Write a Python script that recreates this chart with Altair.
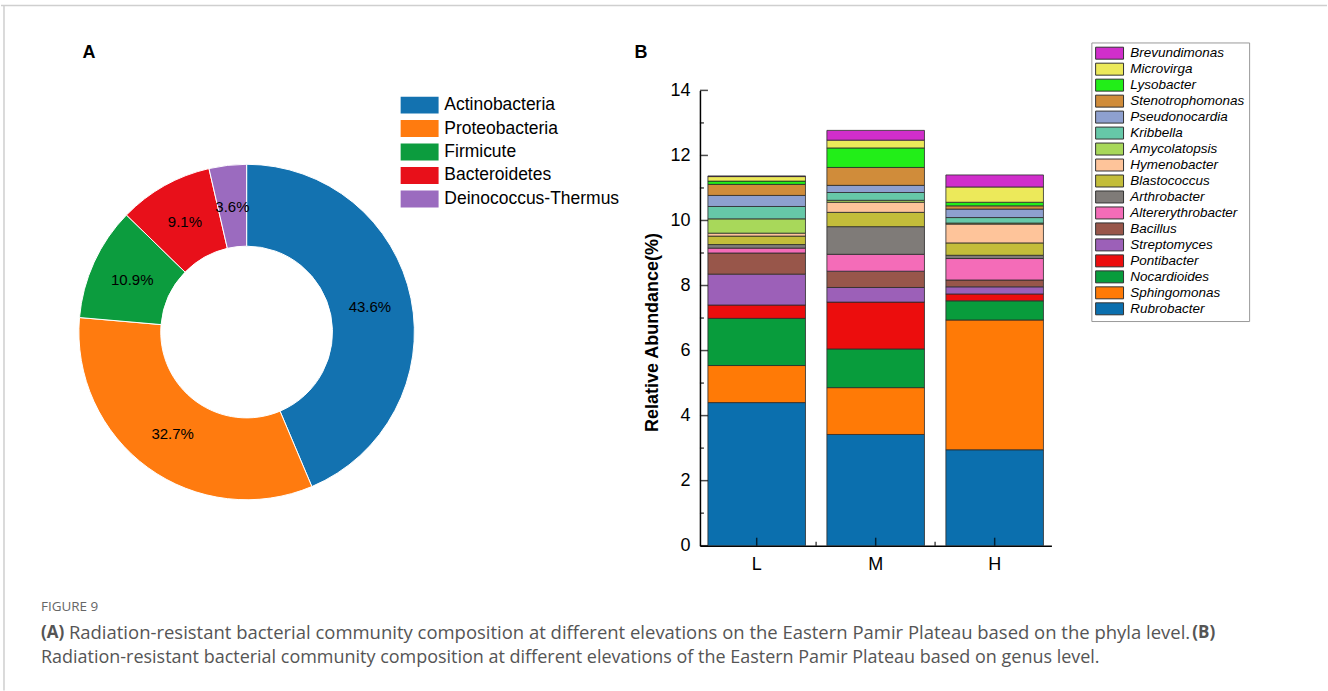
import altair as alt
import pandas as pd

FONT = "Liberation Sans"

# ---- Panel A: phylum-level composition (%) ----
phyla = ["Actinobacteria", "Proteobacteria", "Firmicute", "Bacteroidetes", "Deinococcus-Thermus"]
phyla_pct = [43.6, 32.7, 10.9, 9.1, 3.6]
phyla_colors = ["#1372b0", "#ff7b0f", "#0c9c3e", "#e8101a", "#9b6bbf"]

# ---- Panel B: genus-level relative abundance (%), listed bottom of stack first ----
genera = ["Rubrobacter", "Sphingomonas", "Nocardioides", "Pontibacter", "Streptomyces",
          "Bacillus", "Altererythrobacter", "Arthrobacter", "Blastococcus", "Hymenobacter",
          "Amycolatopsis", "Kribbella", "Pseudonocardia", "Stenotrophomonas", "Lysobacter",
          "Microvirga", "Brevundimonas"]
genus_colors = ["#0b6fae", "#ff7a06", "#089c3c", "#ec0d0d", "#9c60b8",
                "#98564a", "#f46cb8", "#7f7b78", "#c3bd3a", "#fec49a",
                "#a8d85a", "#66c8a8", "#8ea0cf", "#d08c3a", "#22ee18",
                "#ece95a", "#d02ecb"]
sites = ["L", "M", "H"]
abund_L = [4.40, 1.14, 1.45, 0.41, 0.95, 0.65, 0.15, 0.11, 0.26, 0.09, 0.44, 0.38, 0.34, 0.34, 0.10, 0.14, 0.02]
abund_M = [3.42, 1.44, 1.19, 1.44, 0.45, 0.50, 0.52, 0.85, 0.44, 0.31, 0.06, 0.24, 0.22, 0.55, 0.60, 0.24, 0.30]
abund_H = [2.95, 3.99, 0.59, 0.21, 0.22, 0.21, 0.66, 0.10, 0.38, 0.58, 0.03, 0.17, 0.26, 0.10, 0.11, 0.47, 0.37]

y_major = [0, 2, 4, 6, 8, 10, 12, 14]
y_minor = [1, 3, 5, 7, 9, 11, 13]

caption_head = "FIGURE 9"
caption_1 = ("Radiation-resistant bacterial community composition at different elevations "
             "on the Eastern Pamir Plateau based on the phyla level.")
caption_2 = ("Radiation-resistant bacterial community composition at different elevations "
             "of the Eastern Pamir Plateau based on genus level.")

# ---------------- tables ----------------
pie_df = pd.DataFrame({"phylum": phyla, "pct": phyla_pct, "rank": list(range(len(phyla)))})
pie_df["label"] = [f"{v:.1f}%" for v in phyla_pct]

rows = []
for site, vals in zip(sites, [abund_L, abund_M, abund_H]):
    for i, (g, v) in enumerate(zip(genera, vals)):
        rows.append({"site": site, "genus": g, "value": v, "rank": i})
bar_df = pd.DataFrame(rows)

one = pd.DataFrame({"k": [0]})

# ---------------- Panel A: donut (also carries the figure frame and caption) ----------------
CX, CY = 246, 332
pie_base = alt.Chart(pie_df).encode(
    theta=alt.Theta("pct:Q", stack=True),
    order=alt.Order("rank:Q", sort="ascending"),
)
donut = pie_base.mark_arc(outerRadius=168, innerRadius=86, stroke="white", strokeWidth=1).encode(
    x=alt.value(CX), y=alt.value(CY),
    color=alt.Color("phylum:N",
                    scale=alt.Scale(domain=phyla, range=phyla_colors),
                    legend=alt.Legend(title=None, orient="none", legendX=400, legendY=96,
                                      symbolType="M-2.235,-1H2.235V1H-2.235Z", symbolSize=289,
                                      symbolOffset=10.5, symbolStrokeWidth=0, symbolOpacity=1,
                                      labelFont=FONT, labelFontSize=17.5, labelColor="black",
                                      labelFontStyle="normal", labelLimit=0,
                                      labelOffset=16, rowPadding=4.5, padding=0,
                                      strokeColor="transparent")),
)
pie_text = pie_base.mark_text(radius=126, font=FONT, fontSize=15, color="black").encode(
    x=alt.value(CX), y=alt.value(CY), text="label:N")
letter_a = alt.Chart(one).mark_text(font=FONT, fontSize=18, fontWeight="bold", color="black").encode(
    x=alt.value(88), y=alt.value(53), text=alt.value("A"))

CAP_FONT = "Open Sans"
cap_color = "#555555"
frame_color = "#cfcfcf"


def cap_text(txt, x, y, size=18, weight="normal", align="left", color=cap_color):
    return alt.Chart(one).mark_text(font=CAP_FONT, fontSize=size, fontWeight=weight,
                                    align=align, baseline="middle", color=color).encode(
        x=alt.value(x), y=alt.value(y), text=alt.value(txt))


frame_top = alt.Chart(one).mark_rule(color=frame_color, strokeWidth=1.5).encode(
    x=alt.value(0), x2=alt.value(1328), y=alt.value(5))
frame_left = alt.Chart(one).mark_rule(color=frame_color, strokeWidth=1.5).encode(
    x=alt.value(3), y=alt.value(5), y2=alt.value(691))

panel_a = alt.layer(
    frame_top, frame_left,
    donut, pie_text, letter_a,
    cap_text(caption_head, 40, 607, size=13.5, color="#666666"),
    cap_text("(A)", 40, 633, size=17, weight="bold"),
    cap_text(caption_1, 68, 633, size=18.5),
    cap_text("(B)", 1216, 633, size=17, weight="bold", align="right"),
    cap_text(caption_2, 40, 658),
).properties(width=640, height=546)

# ---------------- Panel B: stacked bars ----------------
x_scale = alt.Scale(domain=sites, paddingInner=0.18, paddingOuter=0.067)
y_scale = alt.Scale(domain=[0, 14], range=[546, 90], nice=False)

x_axis = alt.Axis(title=None, ticks=False, labelAngle=0, labelFont=FONT, labelFontSize=18,
                  labelColor="black", labelPadding=10, domainColor="black", domainWidth=1.5)
y_axis = alt.Axis(values=y_major, title="Relative Abundance(%)", grid=False, ticks=False,
                  labelFont=FONT, labelFontSize=18, labelColor="black", labelPadding=10,
                  domainColor="black", domainWidth=1.5,
                  titleFont=FONT, titleFontSize=18, titleFontWeight="bold",
                  titleColor="black", titlePadding=8, titleY=332)

bars = alt.Chart(bar_df).mark_bar(stroke="#2b2b2b", strokeWidth=0.8).encode(
    x=alt.X("site:N", scale=x_scale, axis=x_axis),
    y=alt.Y("value:Q", stack="zero", scale=y_scale, axis=y_axis),
    color=alt.Color("genus:N",
                    scale=alt.Scale(domain=genera[::-1], range=genus_colors[::-1]),
                    legend=alt.Legend(title=None, orient="none", legendX=392, legendY=42,
                                      symbolType="M-2.33,-1H2.33V1H-2.33Z", symbolSize=144,
                                      symbolOffset=7.5,
                                      symbolStrokeColor="#333333", symbolStrokeWidth=1,
                                      symbolOpacity=1,
                                      labelFont=FONT, labelFontSize=13.5, labelFontStyle="italic",
                                      labelColor="black", labelOffset=14, rowPadding=-1,
                                      labelLimit=0, padding=4, strokeColor="#999999")),
    order=alt.Order("rank:Q", sort="ascending"),
)

tick_major_y = alt.Chart(pd.DataFrame({"value": y_major})).mark_tick(
    orient="horizontal", size=8, thickness=1.5, color="black").encode(
    y=alt.Y("value:Q", scale=y_scale, axis=y_axis), x=alt.value(4))
tick_minor_y = alt.Chart(pd.DataFrame({"value": y_minor})).mark_tick(
    orient="horizontal", size=4, thickness=1.5, color="black").encode(
    y=alt.Y("value:Q", scale=y_scale, axis=y_axis), x=alt.value(2))
tick_major_x = alt.Chart(pd.DataFrame({"site": sites})).mark_tick(
    orient="vertical", size=8, thickness=1.5, color="black").encode(
    x=alt.X("site:N", scale=x_scale, axis=x_axis), y=alt.value(542))
tick_minor_x = alt.Chart(pd.DataFrame({"site": sites[:2]})).mark_tick(
    orient="vertical", size=4, thickness=1.5, color="black", xOffset=59.5).encode(
    x=alt.X("site:N", scale=x_scale, axis=x_axis), y=alt.value(544))
letter_b = alt.Chart(one).mark_text(font=FONT, fontSize=18, fontWeight="bold", color="black").encode(
    x=alt.value(-59), y=alt.value(53), text=alt.value("B"))

panel_b = alt.layer(bars, tick_major_y, tick_minor_y, tick_major_x, tick_minor_x, letter_b).properties(
    width=352, height=546)

chart = alt.hconcat(panel_a, panel_b, spacing=60, bounds="flush").resolve_scale(
    color="independent", x="independent", y="independent"
).resolve_legend(color="independent").properties(
    padding={"left": 0, "top": 0, "right": 0, "bottom": 0},
    background="white",
).configure_view(stroke=None)

chart.save("out.html", embed_options={"renderer": "svg", "actions": False})
